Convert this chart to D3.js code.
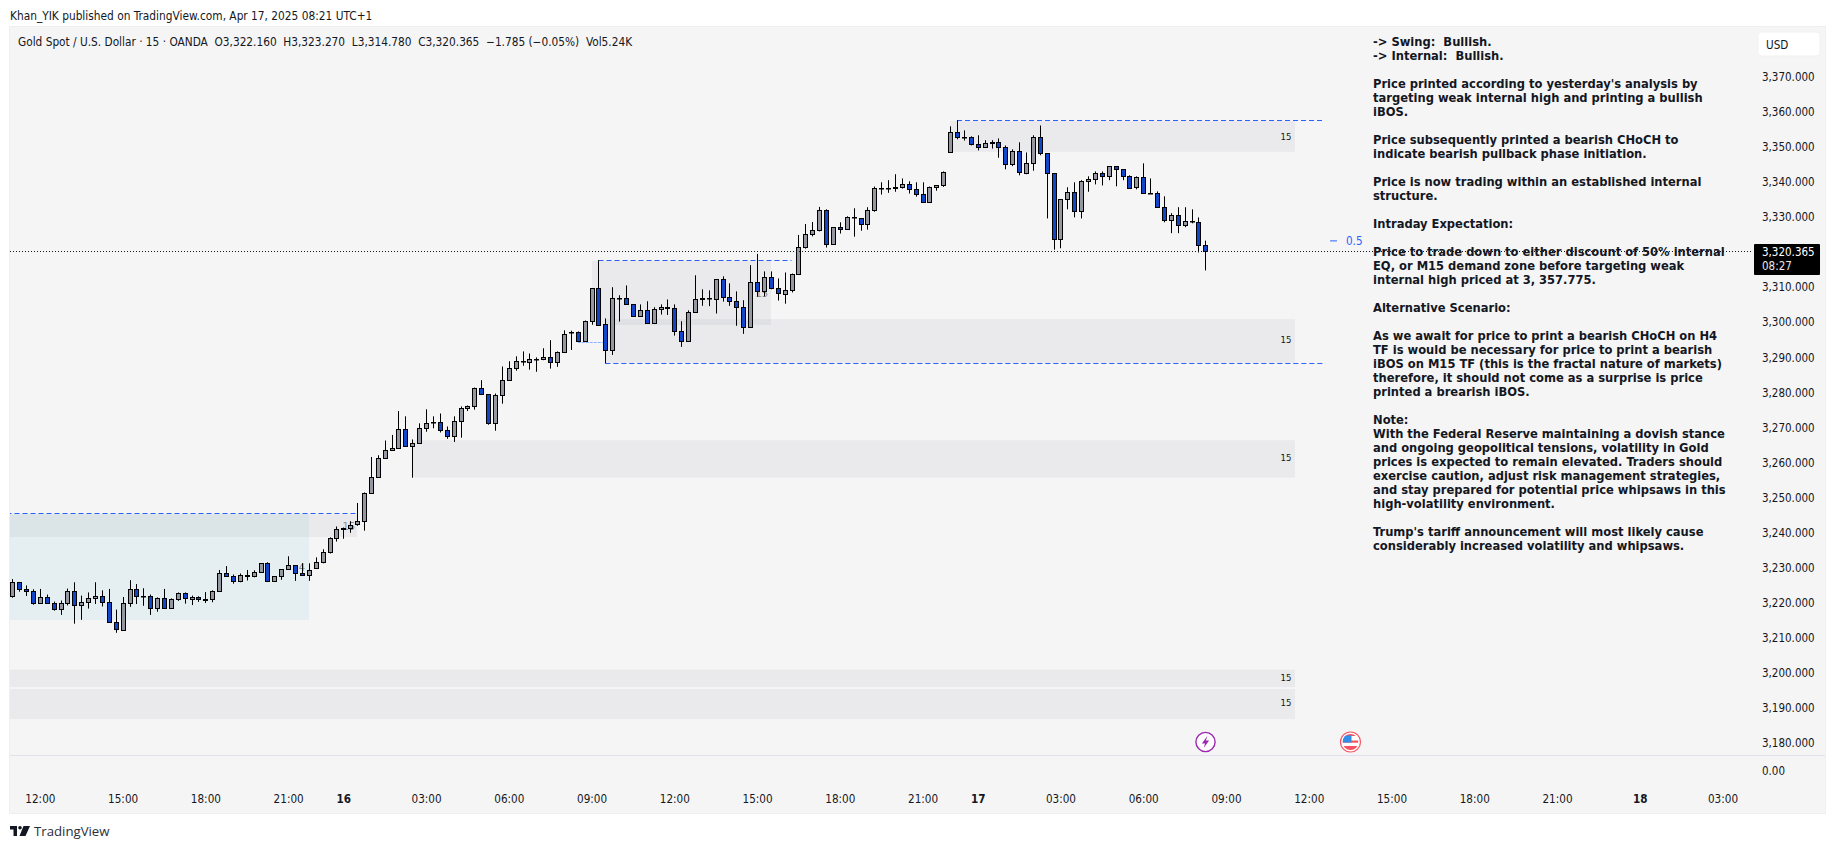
<!DOCTYPE html>
<html><head><meta charset="utf-8">
<script src="https://cdn.jsdelivr.net/npm/d3@7"></script>
<style>
html,body{margin:0;padding:0;background:#fff;overflow:hidden}
text{font-family:'DejaVu Sans Condensed','DejaVu Sans',sans-serif;fill:#131722;white-space:pre}
</style></head><body><svg id="c" width="1835" height="849"></svg>
<script>
const opens=[3222.1,3225.9,3223.9,3223.3,3219.9,3221.6,3219.9,3218.4,3219.9,3223.3,3219.3,3220.2,3221.3,3222.1,3220.4,3214.7,3212.4,3219.9,3224.1,3222.1,3222.1,3218.7,3221.3,3218.6,3221.0,3222.7,3221.0,3221.6,3220.9,3221.0,
3223.3,3228.4,3227.6,3226.4,3228.1,3227.6,3228.7,3231.3,3226.4,3227.6,3229.6,3230.7,3228.4,3227.9,3230.1,3231.8,3234.4,3238.4,3241.0,3241.4,3242.4,3243.4,
3251.4,3255.8,3261.2,3263.5,3264.1,3269.5,3264.6,3265.5,3270.0,3271.5,3271.5,3269.2,3267.5,3271.8,3275.5,3276.0,3281.2,3279.5,3271.2,3279.2,3283.5,3287.1,3288.9,3288.6,3289.4,3289.4,3290.0,3288.6,
3291.4,3297.3,3297.1,3294.6,3300.3,3309.7,3299.4,3292.0,3306.8,3306.8,3305.1,3301.7,3303.4,3299.7,3303.7,3304.3,3304.0,3297.4,3294.8,3302.8,3306.8,3306.8,3306.5,3312.2,3307.1,3306.0,3304.5,3298.6,3311.4,3308.8,3312.8,3309.7,3308.2,3309.1,
3313.7,3321.6,3325.1,3326.2,3331.9,3322.2,3327.1,3326.5,3329.9,3329.6,3327.9,3331.9,3338.2,3338.2,3338.2,3338.7,3339.3,3337.9,3336.5,3334.2,3338.5,3339.0,
3348.4,3354.1,3352.7,3352.7,3350.7,3349.9,3351.3,3351.3,3349.9,3345.0,3348.7,3342.5,3345.3,3352.7,3348.2,3342.5,3323.6,3335.0,3337.0,3331.6,3340.2,3340.7,3342.5,3341.6,3344.5,3343.6,3341.6,3338.5,3341.3,3336.8,3336.8,3333.0,3329.1,3330.5,3327.6,3328.8,3328.5,3322.16];
const highs=[3226.8,3225.9,3225.0,3223.9,3224.0,3222.4,3220.4,3220.7,3224.1,3225.9,3222.1,3223.0,3225.9,3223.6,3224.0,3218.1,3221.7,3226.5,3225.4,3224.2,3222.4,3221.6,3224.0,3221.3,3223.0,3223.0,3222.1,3221.9,3223.1,3223.6,
3229.4,3230.5,3228.1,3228.4,3229.4,3229.3,3231.3,3231.6,3227.6,3229.6,3233.3,3230.7,3231.3,3231.3,3233.0,3235.3,3238.7,3241.8,3241.5,3243.3,3248.5,3251.5,
3261.6,3262.1,3266.3,3267.9,3274.7,3273.2,3266.6,3271.2,3275.2,3273.2,3274.0,3270.3,3273.2,3276.0,3276.3,3281.4,3283.5,3279.5,3279.7,3287.4,3288.9,3290.3,3291.7,3291.1,3290.0,3292.6,3294.9,3291.7,
3297.7,3297.6,3297.4,3300.5,3309.7,3317.7,3301.1,3310.0,3307.7,3310.5,3305.1,3305.1,3306.0,3304.3,3305.1,3306.5,3305.1,3300.3,3303.4,3313.4,3309.4,3309.1,3312.2,3313.1,3311.1,3308.8,3306.3,3316.3,3319.5,3314.5,3314.5,3312.5,3314.2,3313.9,
3324.9,3328.0,3328.6,3332.9,3332.2,3327.1,3328.5,3330.2,3332.5,3329.6,3332.8,3338.7,3339.9,3340.5,3342.2,3341.0,3340.2,3339.9,3339.9,3338.7,3339.0,3343.0,
3355.85,3357.6,3354.7,3353.0,3353.3,3351.9,3351.9,3352.4,3350.4,3349.3,3351.3,3348.4,3353.3,3356.1,3348.2,3342.5,3335.0,3338.5,3339.9,3340.5,3341.6,3343.0,3343.0,3344.5,3344.5,3343.6,3341.9,3341.6,3345.3,3341.0,3337.3,3335.9,3331.1,3332.8,3332.8,3332.2,3329.9,3323.27];
const lows=[3221.5,3223.2,3222.0,3219.5,3219.9,3219.9,3217.8,3216.6,3219.3,3214.1,3215.2,3218.4,3219.7,3219.0,3214.7,3211.5,3212.4,3218.9,3219.7,3219.2,3216.6,3217.5,3218.7,3218.4,3220.6,3219.8,3219.4,3220.3,3220.0,3220.2,
3223.3,3227.6,3225.5,3225.9,3226.4,3227.3,3228.7,3226.4,3226.0,3226.6,3229.6,3226.3,3227.9,3226.3,3230.1,3231.3,3234.1,3237.5,3238.3,3240.0,3242.0,3240.6,
3251.4,3255.8,3261.2,3263.5,3264.1,3264.6,3255.7,3265.5,3268.8,3269.8,3268.6,3266.8,3265.9,3267.1,3274.7,3275.1,3279.5,3270.8,3269.1,3276.8,3283.5,3286.2,3287.6,3286.5,3285.9,3289.2,3286.8,3287.3,
3291.4,3292.1,3294.6,3294.6,3299.3,3299.3,3288.3,3290.7,3300.2,3305.1,3301.7,3301.6,3299.7,3299.7,3302.2,3302.1,3296.2,3293.0,3294.8,3302.8,3304.7,3304.6,3302.5,3305.9,3304.7,3299.0,3296.7,3298.6,3307.3,3307.4,3309.4,3306.2,3305.3,3308.5,
3313.7,3321.0,3324.5,3325.9,3321.3,3322.2,3325.3,3326.5,3324.4,3326.1,3326.4,3331.5,3336.4,3336.9,3337.2,3338.1,3336.7,3335.8,3334.2,3334.2,3337.5,3338.6,
3348.4,3352.15,3351.8,3350.4,3349.0,3349.9,3349.5,3346.9,3343.6,3344.5,3341.9,3342.2,3343.2,3347.6,3329.6,3320.7,3321.1,3332.2,3329.9,3329.6,3337.2,3339.3,3339.0,3340.5,3338.75,3340.5,3338.2,3337.9,3336.8,3336.8,3333.0,3328.5,3325.4,3325.4,3327.1,3328.2,3319.9,3314.78];
const closes=[3225.9,3224.1,3223.3,3219.9,3221.6,3219.9,3218.4,3219.9,3223.3,3219.3,3220.2,3221.3,3222.1,3220.4,3214.7,3212.7,3219.9,3224.1,3221.9,3221.9,3218.7,3221.3,3218.7,3221.0,3222.7,3221.3,3221.6,3221.0,3221.0,3223.3,
3228.4,3227.6,3226.4,3228.1,3227.6,3228.7,3231.3,3226.4,3227.6,3229.6,3230.7,3228.4,3227.9,3229.3,3231.8,3234.4,3238.4,3241.0,3241.5,3242.3,3243.4,3251.4,
3255.8,3261.2,3263.5,3264.1,3269.5,3264.6,3265.5,3270.0,3271.2,3271.5,3269.2,3267.5,3271.8,3275.5,3276.0,3281.2,3279.5,3271.2,3279.2,3283.5,3287.1,3288.9,3288.9,3289.4,3289.4,3290.0,3288.6,3291.4,
3296.8,3297.3,3294.6,3300.3,3309.7,3299.3,3292.0,3306.8,3306.8,3305.1,3301.7,3303.4,3299.7,3303.7,3304.3,3304.0,3297.4,3294.8,3302.8,3306.5,3306.5,3306.8,3312.2,3307.1,3306.0,3304.5,3298.6,3311.4,3308.8,3312.8,3309.7,3308.25,3309.1,3313.7,
3321.6,3325.1,3326.2,3331.9,3322.2,3327.1,3326.5,3329.9,3329.9,3327.9,3331.9,3338.2,3338.2,3338.2,3338.7,3339.3,3337.9,3336.5,3334.2,3338.5,3339.0,3342.7,
3354.1,3352.7,3352.7,3350.7,3349.9,3351.0,3351.0,3349.9,3345.0,3348.7,3342.7,3345.3,3352.7,3348.2,3342.5,3323.6,3335.0,3337.0,3331.6,3340.2,3340.7,3342.5,3341.6,3344.5,3343.6,3341.6,3338.2,3341.3,3336.8,3336.8,3333.0,3329.1,3330.5,3327.6,3328.8,3328.8,3321.9,3320.365];

const priceTicks=[3370,3360,3350,3340,3330,3320,3310,3300,3290,3280,3270,3260,3250,3240,3230,3220,3210,3200,3190,3180];
const timeTickBars=[4,16,28,40,48,60,72,84,96,108,120,132,140,152,164,176,188,200,212,224,236,248];
const timeTickLabels=["12:00","15:00","18:00","21:00","16","03:00","06:00","09:00","12:00","15:00","18:00","21:00","17","03:00","06:00","09:00","12:00","15:00","18:00","21:00","18","03:00"];
const dayLabels=["16","17","18"];

// zones: [startBar,endBar,priceTop,priceBottom]
const greyZones=[[-2,50,3245.3,3238.8],[58,186,3266.4,3255.7],[84,110,3317.5,3299.2],[86,186,3300.9,3288.3],[136,186,3357.4,3348.6],[-2,186,3201,3196],[-2,186,3195.5,3186.9]];
const tealZones=[[-2,43,3245.4,3215.1]];
// dashed levels: [startBar,endBar,price]
const dashedLevels=[[-2,50,3245.5],[85,113,3317.66],[86,190,3288.3],[137,190,3357.6]];
const faintLevels=[[82,86,3294.3]];
const zoneLabels=[[184.7,3353],[184.7,3295],[184.7,3261.3],[184.7,3198.6],[184.7,3191.5]];
const fadedLabels=[[48.8,3242,"15"],[42,3230.3,"4"],[108.7,3308.3,"15"]];
const lastPrice=3320.365;
const headerSymbol="Gold Spot / U.S. Dollar · 15 · OANDA  O3,322.160  H3,323.270  L3,314.780  C3,320.365  −1.785 (−0.05%)  Vol5.24K";
const publishLine="Khan_YIK published on TradingView.com, Apr 17, 2025 08:21 UTC+1";
const notes=["-> Swing:  Bullish.","-> Internal:  Bullish.","",
"Price printed according to yesterday's analysis by","targeting weak internal high and printing a bullish","iBOS.","",
"Price subsequently printed a bearish CHoCH to","indicate bearish pullback phase initiation.","",
"Price is now trading within an established internal","structure.","",
"Intraday Expectation:","",
"Price to trade down to either discount of 50% internal","EQ, or M15 demand zone before targeting weak","internal high priced at 3, 357.775.","",
"Alternative Scenario:","",
"As we await for price to print a bearish CHoCH on H4","TF is would be necessary for price to print a bearish","iBOS on M15 TF (this is the fractal nature of markets)","therefore, it should not come as a surprise is price","printed a brearish iBOS.","",
"Note:","With the Federal Reserve maintaining a dovish stance","and ongoing geopolitical tensions, volatility in Gold","prices is expected to remain elevated. Traders should","exercise caution, adjust risk management strategies,","and stay prepared for potential price whipsaws in this","high-volatility environment.","",
"Trump's tariff announcement will most likely cause","considerably increased volatility and whipsaws."];

const svg=d3.select("#c");
const x=d3.scaleLinear().domain([0,173]).range([12.3,1205.3]);
const y=d3.scaleLinear().domain([3370,3180]).range([76.7,743.3]);
const panel={l:9.5,r:1825.5,t:26.5,b:813.5};

svg.append("rect").attr("x",panel.l).attr("y",panel.t).attr("width",panel.r-panel.l).attr("height",panel.b-panel.t).attr("fill","#f6f5f6").attr("stroke","#efeff2");
svg.append("defs").append("clipPath").attr("id","cp").append("rect").attr("x",10).attr("y",27).attr("width",1815).attr("height",728);
const g=svg.append("g").attr("clip-path","url(#cp)");

// header text
svg.append("text").attr("x",10).attr("y",19.5).attr("font-size",11.8).text(publishLine);
svg.append("text").attr("x",18).attr("y",46).attr("font-size",11.75).text(headerSymbol);

// zones
const zoneRect=(sel,data,fill)=>sel.selectAll(null).data(data).join("rect")
 .attr("x",d=>Math.round(x(d[0]))).attr("width",d=>Math.round(x(d[1]))-Math.round(x(d[0])))
 .attr("y",d=>y(d[2])).attr("height",d=>y(d[3])-y(d[2])).attr("fill",fill);
zoneRect(g.append("g"),tealZones,"rgba(0,151,167,0.065)");
zoneRect(g.append("g"),greyZones,"rgba(120,123,134,0.085)");

// levels
const levelLine=(sel,data,col,dash)=>sel.selectAll(null).data(data).join("line")
 .attr("x1",d=>x(d[0])).attr("x2",d=>x(d[1])).attr("y1",d=>Math.round(y(d[2]))+.5).attr("y2",d=>Math.round(y(d[2]))+.5)
 .attr("stroke",col).attr("stroke-width",1).attr("stroke-dasharray",dash);
levelLine(g.append("g"),dashedLevels,"#2962ff","5 3");
levelLine(g.append("g"),faintLevels,"#90b0ff","3 1");

// zone labels
g.append("g").selectAll("text").data(zoneLabels).join("text").attr("x",d=>x(d[0])).attr("y",d=>y(d[1])).attr("dy","0.35em").attr("text-anchor","middle").attr("font-size",9.5).text("15");
g.append("g").selectAll("text").data(fadedLabels).join("text").attr("x",d=>x(d[0])).attr("y",d=>y(d[1])).attr("dy","0.35em").attr("text-anchor","middle").attr("font-size",11).style("fill","#8a8d96").text(d=>d[2]);

// last price line
const lp=Math.round(y(lastPrice))+.5;
svg.append("line").attr("x1",10).attr("x2",1752).attr("y1",lp).attr("y2",lp).attr("stroke","#131722").attr("stroke-dasharray","1 2");

// fib marker
g.append("line").attr("x1",x(191.1)).attr("x2",x(192.1)).attr("y1",y(3323.2)).attr("y2",y(3323.2)).attr("stroke","#2962ff");
g.append("text").attr("x",x(193.4)).attr("y",y(3323.2)).attr("dy","0.35em").attr("font-size",11.6).style("fill","#2962ff").text("0.5");

// candles
const bars=d3.range(opens.length);
const cg=g.append("g");
cg.selectAll("line").data(bars).join("line")
 .attr("x1",i=>Math.round(x(i))+.5).attr("x2",i=>Math.round(x(i))+.5)
 .attr("y1",i=>y(highs[i])).attr("y2",i=>y(lows[i])).attr("stroke","#000").attr("stroke-width",1);
cg.selectAll("rect").data(bars).join("rect")
 .attr("x",i=>Math.round(x(i))-1.5).attr("width",4)
 .attr("y",i=>Math.round(y(Math.max(opens[i],closes[i])))+.5)
 .attr("height",i=>Math.max(.5,Math.round(y(Math.min(opens[i],closes[i])))-Math.round(y(Math.max(opens[i],closes[i])))))
 .attr("fill",i=>closes[i]>=opens[i]?"#9598a1":"#1246c8")
 .attr("stroke","#000").attr("stroke-width",1);

// notes
svg.append("g").selectAll("text").data(notes).join("text")
 .attr("x",1373).attr("y",(d,i)=>42+14*i).attr("dy","0.35em").attr("font-size",12.8).attr("font-weight","bold").text(d=>d);

// pane divider
svg.append("line").attr("x1",10).attr("x2",1825).attr("y1",755.5).attr("y2",755.5).attr("stroke","#e2e0ee");

// axes
const ya=d3.axisRight(y).tickValues(priceTicks).tickSize(0).tickPadding(0).tickFormat(d3.format(",.3f"));
const yg=svg.append("g").attr("transform","translate(1762,0)").call(ya);
yg.select(".domain").remove();
yg.selectAll("text").attr("font-size",11.5).attr("font-family",null);
yg.selectAll(".tick").filter(d=>d===3320).remove();
svg.append("text").attr("x",1762).attr("y",771).attr("dy","0.35em").attr("font-size",11.5).text("0.00");

const xa=d3.axisBottom(x).tickValues(timeTickBars).tickSize(0).tickPadding(0).tickFormat((d,i)=>timeTickLabels[i]);
const xg=svg.append("g").attr("transform","translate(0,793)").call(xa);
xg.select(".domain").remove();
xg.selectAll("text").attr("font-size",11.6).attr("font-family",null).attr("font-weight",d=>dayLabels.includes(timeTickLabels[timeTickBars.indexOf(d)])?"bold":null);
xg.selectAll("text").attr("dy",null).attr("y",0).attr("dominant-baseline","middle").attr("transform","translate(0,6.3)");

// USD box
svg.append("rect").attr("x",1758).attr("y",32).attr("width",62).attr("height",24).attr("rx",3).attr("fill","#fff").attr("stroke","#f0f0f3");
svg.append("text").attr("x",1766).attr("y",44.6).attr("dy","0.35em").attr("font-size",11.6).text("USD");

// price label
svg.append("rect").attr("x",1754).attr("y",244).attr("width",66).attr("height",31).attr("rx",1).attr("fill","#000");
svg.append("text").attr("x",1762).attr("y",252).attr("dy","0.35em").attr("font-size",11.5).style("fill","#fff").text(d3.format(",.3f")(lastPrice));
svg.append("text").attr("x",1762).attr("y",265.5).attr("dy","0.35em").attr("font-size",11.5).style("fill","#e8e8e8").text("08:27");

// event icons
const ev1=svg.append("g").attr("transform","translate(1205.5,742)");
ev1.append("circle").attr("r",9.6).attr("fill","#fff").attr("stroke","#9c27b0").attr("stroke-width",1.4);
ev1.append("path").attr("d","M1.8,-6 L-3.6,1.4 L-0.4,1.4 L-1.8,6 L3.6,-1.4 L0.4,-1.4 Z").attr("fill","#9c27b0");
const ev2=svg.append("g").attr("transform","translate(1350.5,742)");
ev2.append("clipPath").attr("id","fc").append("circle").attr("r",8);
ev2.append("circle").attr("r",10).attr("fill","#fff").attr("stroke","#f7525f").attr("stroke-width",1.2);
const fg=ev2.append("g").attr("clip-path","url(#fc)");
fg.append("rect").attr("x",-8).attr("y",-8).attr("width",16).attr("height",16).attr("fill","#fff");
fg.append("rect").attr("x",-8).attr("y",-1.5).attr("width",16).attr("height",2.2).attr("fill","#f7525f");
fg.append("rect").attr("x",-8).attr("y",4).attr("width",16).attr("height",4).attr("fill","#f7525f");
fg.append("rect").attr("x",-8).attr("y",-8).attr("width",16).attr("height",2).attr("fill","#f7525f");
fg.append("rect").attr("x",-8).attr("y",-6.5).attr("width",9).attr("height",7).attr("fill","#2f8fe8");

// logo
const lg=svg.append("g").attr("transform","translate(10,826)").attr("fill","#131722");
lg.append("path").attr("d","M0,0 H7 V10 H3.5 V3.5 H0 Z");
lg.append("circle").attr("cx",10).attr("cy",1.8).attr("r",1.8);
lg.append("path").attr("d","M13.5,0 H20 L15.5,10 H9.5 Z");
svg.append("text").attr("x",34).attr("y",836).attr("font-size",13.2).style("font-family","'Open Sans',sans-serif").style("fill","#2a2e39").text("TradingView");
</script></body></html>
